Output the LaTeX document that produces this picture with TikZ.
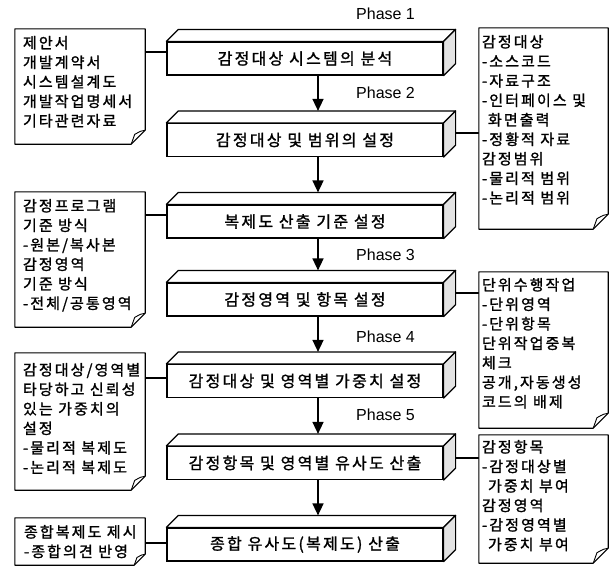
\documentclass[tikz,border=0pt]{standalone}
\usepackage{fontspec}
\setmainfont{Liberation Sans}
\newfontfamily\kr[LetterSpace=14,FakeBold=1.4]{Noto Sans CJK KR}
\usetikzlibrary{arrows.meta,calc}
\newcommand\dogear[2]{%
  \draw[noteline] (#1.north west) -- (#1.north east) -- ([yshift=#2pt]#1.south east) -- ([xshift=-#2pt]#1.south east) -- (#1.south west) -- cycle;
  \draw[line width=0.9pt, line join=round] ([yshift=#2pt]#1.south east) .. controls ($(#1.south east)+(-0.3*#2,-0.95*#2)$) .. ($(#1.south east)+(-0.75*#2,-0.7*#2)$) -- ([xshift=-#2pt]#1.south east);
}
\begin{document}
\begin{tikzpicture}[x=1pt,y=-1pt,
  stagebox/.style={draw, line width=1.2pt, fill=white, minimum width=276pt, minimum height=33pt, inner sep=0pt, font=\kr\fontsize{16}{18}\selectfont},
  face/.style={draw, line width=1.2pt, line join=round, fill=white},
  sideface/.style={face, fill=gray!22},
  notearea/.style={draw=none, inner sep=0pt},
  noteline/.style={draw, line width=1.1pt, fill=white, line join=round},
  notetext/.style={anchor=north west, inner sep=0pt, align=left, font=\kr\fontsize{15}{19.5}\selectfont},
  phase/.style={anchor=west, inner sep=0pt, font=\fontsize{16}{18}\selectfont},
  arr/.style={line width=1.5pt, -{Triangle[length=12pt,width=11pt]}},
  link/.style={line width=1.1pt}]
\useasboundingbox (0,0) rectangle (613,570);

% stage boxes
\foreach \n/\y/\t in {b1/58.5/감정대상 시스템의 분석, b2/140/감정대상 및 범위의 설정, b3/221.5/복제도 산출 기준 설정, b4/299.5/감정영역 및 항목 설정, b5/381/감정대상 및 영역별 가중치 설정, b6/463/감정항목 및 영역별 유사도 산출, b7/544.5/종합 유사도(복제도) 산출}{
  \node[stagebox] (\n) at (305,\y) {\t};
  \draw[face] (\n.north west) -- ++(12,-12) -- ($(\n.north east)+(12,-12)$) -- (\n.north east) -- cycle;
  \draw[sideface] (\n.north east) -- ++(12,-12) -- ($(\n.south east)+(12,-12)$) -- (\n.south east) -- cycle;
}

% phase labels
\node[phase] (p1) at (356,14) {Phase 1};
\node[phase] (p2) at (356,93) {Phase 2};
\node[phase] (p3) at (356,255) {Phase 3};
\node[phase] (p4) at (356,337) {Phase 4};
\node[phase] (p5) at (356,415) {Phase 5};

% arrows
\foreach \a/\b in {b1/b2, b2/b3, b3/b4, b4/b5, b5/b6, b6/b7}{
  \draw[arr] ([xshift=13pt]\a.south) -- ([shift={(13,-12)}]\b.north);
}

% notes (areas)
\node[notearea, minimum width=130pt, minimum height=115pt] (n1) at (80,86.5) {};
\node[notearea, minimum width=130pt, minimum height=135pt] (n2) at (80,259.5) {};
\node[notearea, minimum width=130pt, minimum height=137pt] (n3) at (80,421.5) {};
\node[notearea, minimum width=130pt, minimum height=47pt] (n4) at (80,541.5) {};
\node[notearea, minimum width=129pt, minimum height=201pt] (r1) at (543.5,128.5) {};
\node[notearea, minimum width=129pt, minimum height=156pt] (r2) at (543.5,350) {};
\node[notearea, minimum width=129pt, minimum height=128pt] (r3) at (543.5,499) {};

% links
\draw[link] ([yshift=6.5pt]b1.west) -- ([yshift=6.5pt]b1.west -| n1.east);
\draw[link] ([yshift=6.5pt]b3.west) -- ([yshift=6.5pt]b3.west -| n2.east);
\draw[link] ([yshift=3pt]b5.west) -- ([yshift=3pt]b5.west -| n3.east);
\draw[link] ([yshift=1.5pt]b7.west) -- ([yshift=1.5pt]b7.west -| n4.east);
\draw[link] ([shift={(12,-7)}]b2.east) -- ([shift={(12,-7)}]b2.east -| r1.west);
\draw[link] ([shift={(12,-6.5)}]b4.east) -- ([shift={(12,-6.5)}]b4.east -| r2.west);
\draw[link] ([shift={(12,-5)}]b6.east) -- ([shift={(12,-5)}]b6.east -| r3.west);

% note outlines
\dogear{n1}{14}
\dogear{n2}{14}
\dogear{n3}{14}
\dogear{n4}{11}
\dogear{r1}{15}
\dogear{r2}{15}
\dogear{r3}{15}

% note texts
\node[notetext] (n1t) at ([shift={(8,7)}]n1.north west) {제안서\\개발계약서\\시스템설계도\\개발작업명세서\\기타관련자료};
\node[notetext] (n2t) at ([shift={(8,7)}]n2.north west) {감정프로그램\\기준 방식\\-원본/복사본\\감정영역\\기준 방식\\-전체/공통영역};
\node[notetext] (n3t) at ([shift={(8,10)}]n3.north west) {감정대상/영역별\\타당하고 신뢰성\\있는 가중치의\\설정\\-물리적 복제도\\-논리적 복제도};
\node[notetext] (n4t) at ([shift={(9,7)}]n4.north west) {종합복제도 제시\\-종합의견 반영};
\node[notetext] (r1t) at ([shift={(3,7)}]r1.north west) {감정대상\\-소스코드\\-자료구조\\-인터페이스 및\\\hspace*{6pt}화면출력\\-정황적 자료\\감정범위\\-물리적 범위\\-논리적 범위};
\node[notetext] (r2t) at ([shift={(3,6)}]r2.north west) {단위수행작업\\-단위영역\\-단위항목\\단위작업중복\\체크\\공개,자동생성\\코드의 배제};
\node[notetext] (r3t) at ([shift={(3,5)}]r3.north west) {감정항목\\-감정대상별\\\hspace*{6pt}가중치 부여\\감정영역\\-감정영역별\\\hspace*{6pt}가중치 부여};
\end{tikzpicture}
\end{document}
